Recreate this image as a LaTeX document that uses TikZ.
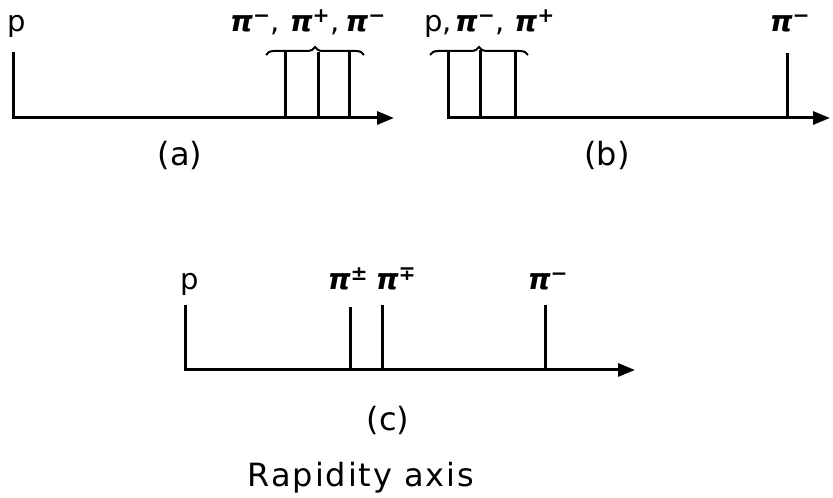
\documentclass[tikz,border=0pt]{standalone}
\usepackage{fontspec}
\setmainfont{DejaVu Sans}
\usetikzlibrary{arrows.meta, decorations.pathreplacing, calc}
\tikzset{
  axisline/.style={line width=3pt, -{Triangle[length=17pt,width=13pt]}},
  tickline/.style={line width=3pt},
  grp/.style={decorate, decoration={brace, amplitude=8pt}, line width=2pt},
  lbl/.style={font=\fontsize{29}{32}\selectfont, inner sep=0pt, anchor=base},
  sublbl/.style={font=\fontsize{32}{36}\selectfont, inner sep=0pt},
}
\newcommand{\pion}[1]{\textbf{\textit{π}}\textsuperscript{\bfseries #1}}

\begin{document}
\begin{tikzpicture}[x=1pt, y=1pt]
  \useasboundingbox (0,0) rectangle (833,498);
  % (a)
  \coordinate (a0) at (13,380);
  \coordinate (pa) at (13,446);
  \coordinate (ea) at (394,380);
  \coordinate (ta1) at (285,446);
  \coordinate (ta2) at (318,446);
  \coordinate (ta3) at (349,446);
  \coordinate (ga1) at (266,443);
  \coordinate (ga2) at (364,443);
  \draw[axisline] (pa) |- (ea);
  \foreach \t in {ta1,ta2,ta3} \draw[tickline] (\t) -- (\t |- a0);
  \draw[grp] (ga1) -- (ga2);
  \node[lbl] (lp) at (17,466) {p};
  \node[lbl] (lpi) at (308,466) {\pion{−},\hspace{10pt}\pion{+},\hspace{6pt}\pion{−}};
  \node[sublbl] (capa) at (180,343) {(a)};
  % (b)
  \coordinate (b0) at (448,380);
  \coordinate (pb) at (448,448);
  \coordinate (eb) at (830,380);
  \coordinate (tb1) at (480,448);
  \coordinate (tb2) at (515,448);
  \coordinate (tb3) at (787,445);
  \coordinate (gb1) at (430,443);
  \coordinate (gb2) at (528,443);
  \draw[axisline] (pb) |- (eb);
  \foreach \t in {tb1,tb2,tb3} \draw[tickline] (\t) -- (\t |- b0);
  \draw[grp] (gb1) -- (gb2);
  \node[lbl, anchor=base west] (lpb) at (424,466) {p,\hspace{3pt}\pion{−},\hspace{10pt}\pion{+}};
  \node[lbl] (lpib) at (790,466) {\pion{−}};
  \node[sublbl] (capb) at (607,343) {(b)};
  % (c)
  \coordinate (c0) at (185,128);
  \coordinate (pc) at (185,193);
  \coordinate (ec) at (635,128);
  \coordinate (tc1) at (350,191);
  \coordinate (tc2) at (382,193);
  \coordinate (tc3) at (545,193);
  \draw[axisline] (pc) |- (ec);
  \foreach \t in {tc1,tc2,tc3} \draw[tickline] (\t) -- (\t |- c0);
  \node[lbl] (lpc) at (190,208) {p};
  \node[lbl] (lpc1) at (348,208) {\pion{±}};
  \node[lbl] (lpc2) at (396,208) {\pion{∓}};
  \node[lbl] (lpc3) at (548,208) {\pion{−}};
  \node[sublbl] (capc) at (388,78) {(c)};
  \node[sublbl, anchor=base] (rap) at (361,11)
    {\addfontfeature{LetterSpace=6}Rapidity axis};
\end{tikzpicture}
\end{document}
